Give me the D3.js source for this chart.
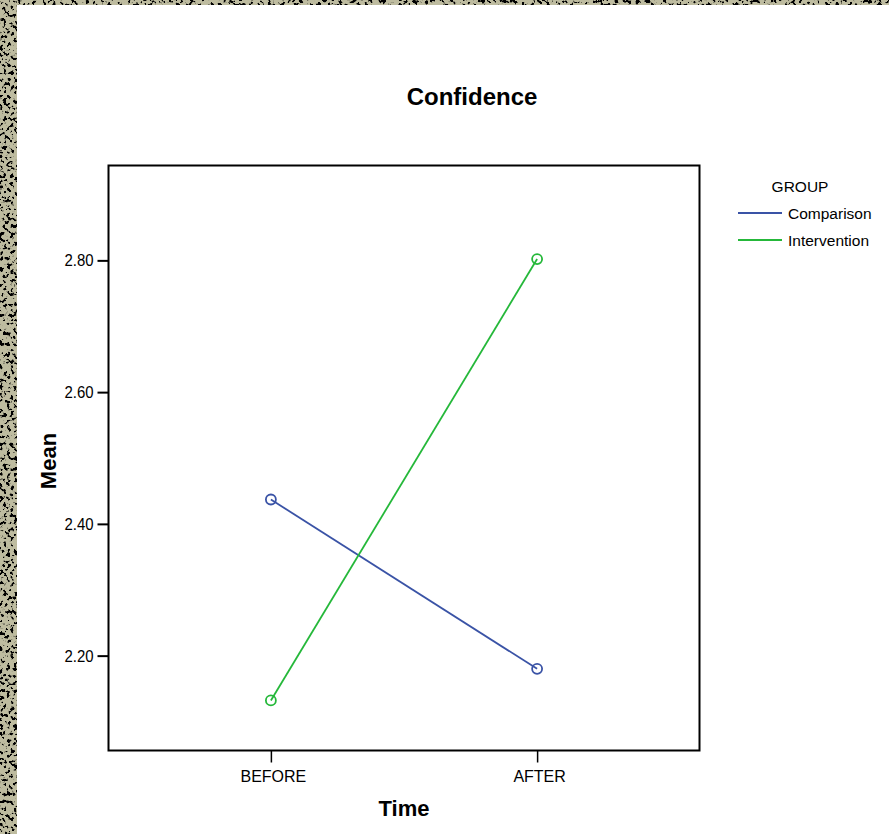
<!DOCTYPE html>
<html><head><meta charset="utf-8">
<script src="https://cdn.jsdelivr.net/npm/d3@7"></script>
<style>html,body{margin:0;padding:0;background:#fff;}svg{display:block;}</style>
</head><body>
<script>
// ---- data ----
const timeCategories = ["BEFORE", "AFTER"];
const groupNames = ["Comparison", "Intervention"];
const comparisonMeans = [2.437, 2.180];
const interventionMeans = [2.132, 2.802];
const yTickValues = [2.20, 2.40, 2.60, 2.80];
const titleText = "Confidence";
const xAxisTitle = "Time";
const yAxisTitle = "Mean";
const legendTitle = "GROUP";

const seriesValues = [comparisonMeans, interventionMeans];
const colors = ["#3a53a6", "#25b83a"];

const W = 889, H = 834;
const frame = {left: 108.5, top: 165.5, right: 699.5, bottom: 750.5};
const font = "'Liberation Sans', Arial, Helvetica, sans-serif";

const svg = d3.select("body").append("svg").attr("width", W).attr("height", H);

// textured border (decoration)
const defs = svg.append("defs");
const f = defs.append("filter").attr("id", "speck").attr("x", 0).attr("y", 0).attr("width", 1).attr("height", 1);
f.append("feTurbulence").attr("type", "fractalNoise").attr("baseFrequency", 0.28).attr("numOctaves", 2).attr("seed", 7).attr("result", "n");
f.append("feColorMatrix").attr("in", "n").attr("type", "matrix")
  .attr("values", "0 0 0 0 0  0 0 0 0 0  0 0 0 0 0  -12 0 0 0 5.6").attr("result", "dots");
f.append("feFlood").attr("flood-color", "#bebca0").attr("result", "bg");
f.append("feMerge").selectAll("feMergeNode").data(["bg", "dots"]).join("feMergeNode").attr("in", d => d);
svg.append("rect").attr("x", 0).attr("y", 0).attr("width", 17).attr("height", H).attr("filter", "url(#speck)");
svg.append("rect").attr("x", 0).attr("y", 0).attr("width", W).attr("height", 5).attr("filter", "url(#speck)");

// scales
const x = d3.scalePoint().domain(timeCategories).range([frame.left, frame.right]).padding(0.61);
const y = d3.scaleLinear().domain([2.056, 2.944]).range([frame.bottom, frame.top]);

// frame
svg.append("rect")
  .attr("x", frame.left).attr("y", frame.top)
  .attr("width", frame.right - frame.left).attr("height", frame.bottom - frame.top)
  .attr("fill", "none").attr("stroke", "#000").attr("stroke-width", 2);

// y axis
const yAxis = svg.append("g").attr("transform", `translate(${frame.left},0)`)
  .call(d3.axisLeft(y).tickValues(yTickValues).tickFormat(d3.format(".2f")).tickSize(11).tickPadding(4));
yAxis.select(".domain").remove();
yAxis.selectAll(".tick line").attr("stroke", "#000").attr("stroke-width", 2);
yAxis.selectAll(".tick text").attr("font-family", font).attr("font-size", 17).attr("fill", "#000")
  .attr("transform", "scale(0.88,1)").attr("x", -15 / 0.88);

// x axis
const xAxis = svg.append("g").attr("transform", `translate(0,${frame.bottom})`)
  .call(d3.axisBottom(x).tickSize(12).tickPadding(8));
xAxis.select(".domain").remove();
xAxis.selectAll(".tick line").attr("stroke", "#000").attr("stroke-width", 1.5);
xAxis.selectAll(".tick text").attr("font-family", font).attr("font-size", 16).attr("fill", "#000")
  .attr("dx", 2);

// lines + markers
const line = d3.line().x((d, i) => x(timeCategories[i])).y(d => y(d));
seriesValues.forEach((vals, s) => {
  svg.append("path").datum(vals).attr("d", line)
    .attr("fill", "none").attr("stroke", colors[s]).attr("stroke-width", 1.8);
  svg.selectAll(null).data(vals).join("circle")
    .attr("cx", (d, i) => x(timeCategories[i])).attr("cy", d => y(d)).attr("r", 5)
    .attr("fill", "none").attr("stroke", colors[s]).attr("stroke-width", 1.8);
});

// titles
svg.append("text").attr("x", 472).attr("y", 105).attr("text-anchor", "middle")
  .attr("font-family", font).attr("font-weight", "bold").attr("font-size", 24).text(titleText);
svg.append("text").attr("x", 404).attr("y", 816).attr("text-anchor", "middle")
  .attr("font-family", font).attr("font-weight", "bold").attr("font-size", 22).text(xAxisTitle);
svg.append("text").attr("transform", "translate(56,461) rotate(-90)").attr("text-anchor", "middle")
  .attr("font-family", font).attr("font-weight", "bold").attr("font-size", 22).text(yAxisTitle);

// legend
const lg = svg.append("g");
lg.append("text").attr("x", 800).attr("y", 192).attr("text-anchor", "middle")
  .attr("font-family", font).attr("font-size", 15.5).text(legendTitle);
groupNames.forEach((g, i) => {
  const yy = 213 + i * 27;
  lg.append("line").attr("x1", 738).attr("x2", 782).attr("y1", yy).attr("y2", yy)
    .attr("stroke", colors[i]).attr("stroke-width", 2);
  lg.append("text").attr("x", 788).attr("y", yy + 5.5)
    .attr("font-family", font).attr("font-size", 15.5).text(g);
});
</script>
</body></html>
